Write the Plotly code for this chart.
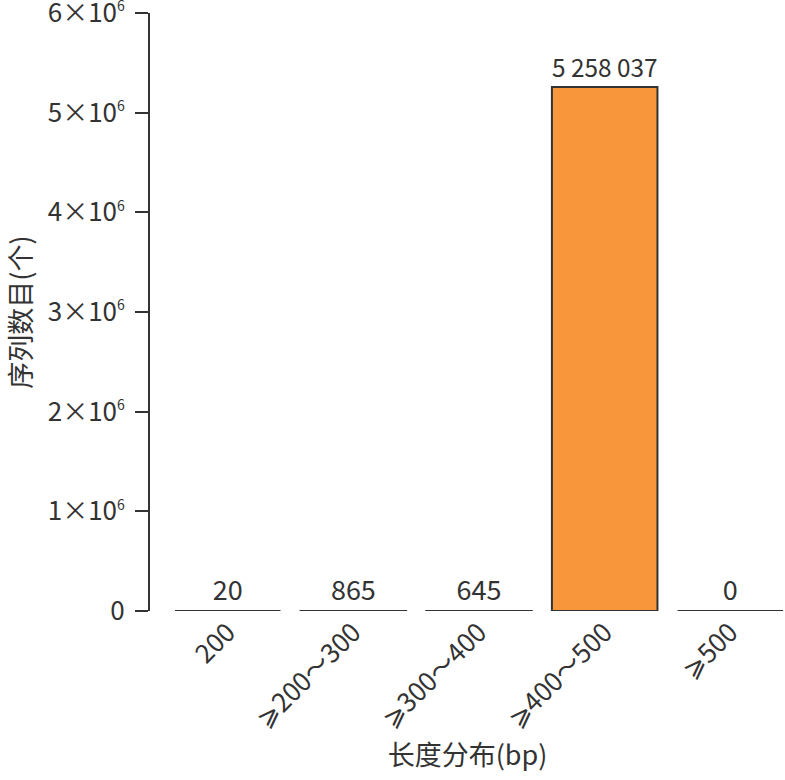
import plotly.graph_objects as go

categories = ["200", "⩾200～300", "⩾300～400", "⩾400～500", "⩾500"]
values = [20, 865, 645, 5258037, 0]
ytick_vals = [0, 1e6, 2e6, 3e6, 4e6, 5e6, 6e6]
ytick_text = ["0"] + [f"{i}×10<sup><span style='font-size:14px'>6</span></sup>" for i in range(1, 7)]

labels = [f"{v:,}".replace(",", " ") for v in values]

font = "Noto Sans CJK SC"
ink = "#333333"

fig = go.Figure(go.Bar(
    x=categories, y=values, text=labels, textposition="outside",
    textfont=dict(size=27, color=ink, family=font),
    marker=dict(color="#F7963A", line=dict(color=ink, width=2)),
    cliponaxis=False, width=0.84, hoverinfo="skip",
))
fig.update_layout(
    width=785, height=780,
    margin=dict(l=150, r=0, t=13, b=169),
    plot_bgcolor="white", paper_bgcolor="white",
    font=dict(family=font, size=24, color=ink),
    showlegend=False,
    xaxis=dict(range=[-0.6185, 4.435], tickangle=-45, showline=False,
               ticks="", showgrid=False, tickfont=dict(size=26), automargin=False,
               title=dict(text="长度分布(bp)", font=dict(size=27), standoff=5)),
    yaxis=dict(range=[0, 6e6], tickvals=ytick_vals, ticktext=ytick_text,
               showline=True, linecolor=ink, linewidth=2, ticks="outside",
               ticklen=13, tickwidth=2, tickcolor=ink, showgrid=False,
               zeroline=False, tickfont=dict(size=26), automargin=False,
               ticklabeloverflow="allow", ticklabelstandoff=5,
               title=dict(text="序列数目(个)", font=dict(size=27), standoff=12)),
)
fig.write_html("out.html", config={"displayModeBar": False},
               post_script="document.body.style.margin='0';")
